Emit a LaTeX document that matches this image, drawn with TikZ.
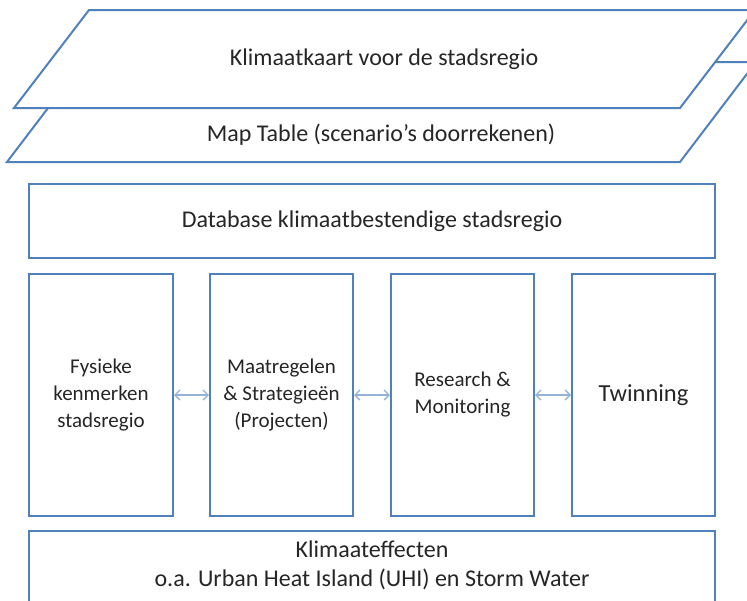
\documentclass[tikz,border=0pt]{standalone}
\usepackage{fontspec}
\setmainfont{Carlito}
\usetikzlibrary{arrows.meta}
\definecolor{boxblue}{HTML}{4F81BD}
\definecolor{arrowblue}{HTML}{95B3D7}
\definecolor{textgray}{HTML}{262626}
\tikzset{
  block/.style={draw=boxblue, line width=2pt, fill=white, text=textgray, align=center},
  layer/.style={draw=boxblue, line width=2pt, fill=white},
  biarrow/.style={{Straight Barb[length=5pt,width=10pt]}-{Straight Barb[length=5pt,width=10pt]}, line width=1.3pt, color=arrowblue},
  bigfont/.style={font=\fontsize{24}{29}\selectfont},
  smallfont/.style={font=\fontsize{21}{27}\selectfont}
}
\begin{document}
\begin{tikzpicture}[x=1pt,y=-1pt]
	\path[use as bounding box] (0,0) rectangle (747,600);
	\clip (0,0) rectangle (747,600);

	% kaartlagen
	\draw[layer] (7,162) -- (680,162) -- (756,62) -- (83,62) -- cycle;
	\draw[layer] (14,108) -- (680,108) -- (755,10) -- (89,10) -- cycle;
	\node[text=textgray, bigfont] (maptable) at (381,135) {Map Table (scenario’s doorrekenen)};
	\node[text=textgray, bigfont] (kaart) at (384,59) {Klimaatkaart voor de stadsregio};

	% database
	\node[block, bigfont, minimum width=686pt, minimum height=74pt] (db) at (372,221) {Database klimaatbestendige stadsregio};

	% kolommen
	\node[block, smallfont, minimum width=144pt, minimum height=242pt] (fysiek) at (101,395) {Fysieke\\kenmerken\\stadsregio};
	\node[block, smallfont, minimum width=143pt, minimum height=242pt] (maatregel) at (281.5,395) {Maatregelen\\\& Strategieën\\(Projecten)};
	\node[block, smallfont, minimum width=143pt, minimum height=242pt] (research) at (462.5,395) {Research \&\\Monitoring};
	\node[block, font=\fontsize{24.5}{29}\selectfont, minimum width=143pt, minimum height=242pt] (twinning) at (643.5,395) {Twinning};

	\draw[biarrow] (fysiek) -- (maatregel);
	\draw[biarrow] (maatregel) -- (research);
	\draw[biarrow] (research) -- (twinning);

	% klimaateffecten
	\node[block, minimum width=686pt, minimum height=71pt] (effect) at (372,566.5) {};
	\node[text=textgray, bigfont, align=center] (effecttxt) at (372,565) {Klimaateffecten\\o.a. Urban Heat Island (UHI) en Storm Water};
\end{tikzpicture}
\end{document}
